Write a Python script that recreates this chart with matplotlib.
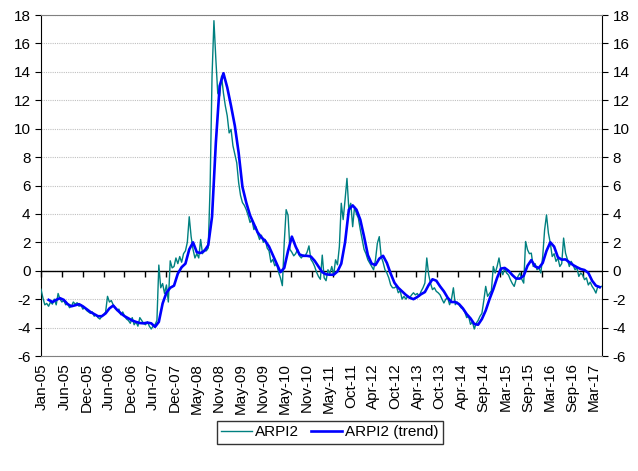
import matplotlib
matplotlib.use("Agg")
import matplotlib.pyplot as plt
import numpy as np

plt.rcParams['font.family'] = ['Liberation Sans', 'DejaVu Sans']
plt.rcParams['axes.unicode_minus'] = False

# =============================================================================
# DATA (x = months since Jan-05)
# =============================================================================

# ARPI2, two readings per month, Jan-05 .. Apr-17
arpi2 = [
    -1.3, -1.9, -2.4, -2.3, -2.5, -2.2, -2.35, -2.0, -2.4, -1.6, -2.0, -2.2,
    -2.1, -2.4, -2.3, -2.6, -2.5, -2.2, -2.35, -2.25, -2.5, -2.4, -2.7, -2.6,
    -2.8, -2.9, -3.0, -2.9, -3.2, -3.1, -3.3, -3.4, -3.2, -3.1, -2.9, -1.8,
    -2.2, -2.1, -2.4, -2.6, -2.8, -2.7, -3.1, -2.9, -3.2, -3.4, -3.5, -3.7,
    -3.3, -3.8, -3.6, -3.9, -3.3, -3.5, -3.7, -3.8, -3.6, -3.9, -4.1, -3.9,
    -3.8, -3.5, 0.4, -1.2, -0.9, -1.6, -1.0, -2.2, 0.7, 0.2, 0.3, 0.9,
    0.5, 1.0, 0.6, 1.2, 1.4, 2.0, 3.8, 2.4, 1.5, 0.9, 1.2, 0.9,
    2.2, 1.2, 1.5, 1.4, 1.6, 6.0, 13.7, 17.6, 14.9, 12.5, 12.3, 13.7,
    12.5, 11.6, 10.9, 9.7, 9.95, 8.8, 8.2, 7.6, 6.2, 5.3, 4.8, 4.6,
    4.3, 3.9, 3.4, 3.6, 2.9, 3.1, 2.6, 2.2, 2.5, 2.0, 2.2, 1.6,
    1.4, 0.6, 0.8, 0.35, 0.5, -0.1, -0.5, -1.05, 2.0, 4.3, 3.9, 1.5,
    1.3, 1.05, 1.2, 1.5, 1.05, 0.9, 1.1, 1.05, 1.3, 1.75, 0.8, 0.6,
    0.3, -0.1, -0.4, -0.6, 1.1, -0.5, -0.7, 0.07, -0.2, 0.3, -0.28, 0.77,
    0.42, 1.7, 4.75, 3.6, 5.0, 6.5, 4.3, 4.75, 3.1, 4.5, 4.0, 3.7,
    2.9, 2.2, 1.5, 1.2, 0.77, 0.54, 0.3, 0.07, 0.77, 1.94, 2.4, 1.0,
    0.6, 0.07, -0.16, -0.5, -1.0, -1.2, -1.2, -1.1, -1.55, -1.4, -2.0, -1.8,
    -2.0, -1.8, -1.9, -1.7, -1.55, -1.7, -1.6, -1.8, -1.45, -1.2, -0.87, 0.9,
    -0.28, -0.9, -1.33, -1.2, -1.45, -1.55, -1.7, -2.0, -2.27, -2.0, -1.92, -2.39,
    -2.0, -1.2, -2.39, -2.2, -2.4, -2.6, -2.7, -2.9, -3.3, -3.2, -3.77, -3.6,
    -4.1, -3.7, -3.5, -3.2, -3.0, -2.1, -1.1, -1.8, -1.6, -1.4, 0.3, -0.16,
    0.3, 0.9, 0.07, -0.28, 0.2, -0.16, -0.3, -0.63, -0.9, -1.1, -0.63, -0.4,
    -0.16, -0.6, -0.87, 2.06, 1.48, 1.2, 1.24, 0.3, 0.5, 0.07, 0.2, -0.16,
    1.0, 2.88, 3.93, 2.65, 1.94, 1.0, 1.2, 0.66, 0.9, 0.3, 0.5, 2.3,
    1.24, 0.8, 0.3, 0.66, 0.4, 0.07, 0.2, -0.4, -0.16, -0.3, -0.63, -0.5,
    -1.0, -0.8, -1.1, -1.3, -1.57, -1.1, -1.2, -1.1,
]
arpi2_x = np.arange(len(arpi2)) * 0.5

# ARPI2 (trend), monthly, Mar-05 .. Apr-17
trend = [
    -2.05, -2.2, -2.05, -1.93, -2.05, -2.35, -2.5, -2.43, -2.35, -2.5,
    -2.7, -2.9, -3.05, -3.2, -3.2, -3.0, -2.65, -2.45, -2.75, -3.0,
    -3.2, -3.35, -3.5, -3.6, -3.68, -3.7, -3.65, -3.7, -3.95, -3.6,
    -2.3, -1.55, -1.2, -1.05, -0.2, 0.25, 0.5, 1.5, 2.0, 1.3,
    1.25, 1.4, 1.8, 3.8, 9.0, 13.0, 13.9, 12.9, 11.6, 10.2,
    8.3, 5.9, 4.8, 3.9, 3.3, 2.7, 2.35, 2.1, 1.7, 1.1,
    0.5, -0.1, 0.2, 1.4, 2.4, 1.7, 1.15, 1.05, 1.05, 1.0,
    0.7, 0.3, -0.1, -0.25, -0.28, -0.28, -0.05, 0.5, 2.0, 4.3,
    4.6, 4.3, 3.6, 2.4, 1.1, 0.5, 0.4, 0.85, 1.05, 0.55,
    -0.2, -0.85, -1.2, -1.45, -1.7, -1.9, -2.0, -1.85, -1.65, -1.5,
    -1.0, -0.6, -0.7, -1.1, -1.45, -1.9, -2.2, -2.2, -2.35, -2.65,
    -3.05, -3.35, -3.75, -3.8, -3.4, -2.8, -2.0, -1.3, -0.5, 0.15,
    0.2, 0.0, -0.3, -0.55, -0.55, -0.35, 0.35, 0.75, 0.3, 0.2,
    0.55, 1.4, 2.0, 1.7, 0.95, 0.78, 0.8, 0.6, 0.4, 0.25,
    0.12, 0.05, -0.15, -0.7, -1.05, -1.15,
]
trend_x = np.arange(len(trend)) + 2

labels = ['Jan-05', 'Jun-05', 'Dec-05', 'Jun-06', 'Dec-06', 'Jun-07',
          'Dec-07', 'May-08', 'Nov-08', 'May-09', 'Nov-09', 'May-10',
          'Nov-10', 'May-11', 'Oct-11', 'Apr-12', 'Oct-12', 'Apr-13',
          'Oct-13', 'Apr-14', 'Sep-14', 'Mar-15', 'Sep-15', 'Mar-16',
          'Sep-16', 'Mar-17']

# =============================================================================
# PLOT
# =============================================================================

fig = plt.figure(figsize=(6.38, 4.71), dpi=100)
ax = fig.add_axes([41 / 638, 1 - 356 / 471, 561 / 638, 341 / 471])

ax.plot(arpi2_x, arpi2, color='#008080', lw=1.0, label='ARPI2', zorder=3)
ax.plot(trend_x, trend, color='#0000FF', lw=1.9, label='ARPI2 (trend)', zorder=4)

ax.set_xlim(0, 147.6)
ax.set_ylim(-6, 18)
ax.set_yticks(np.arange(-6, 19, 2))
ax.grid(axis='y', color='#c0c0c0', linestyle=(0, (1, 1)), linewidth=0.8)
ax.axhline(0, color='black', lw=1.0, zorder=2)

# category labels at the bottom, no tick marks
ax.set_xticks(0.3 + 5.81 * np.arange(len(labels)))
ax.set_xticklabels(labels, rotation=90, fontsize=11)
ax.tick_params(axis='x', length=0, pad=5)

# tick marks on the zero line
zx = ax.secondary_xaxis(0.25)
zx.set_xticks(5.487 * np.arange(27))
zx.set_xticklabels([])
zx.tick_params(axis='x', direction='out', length=4, width=1, color='black')
zx.spines['bottom'].set_visible(False)

ax.tick_params(axis='y', labelsize=11, direction='out', length=4,
               left=True, right=True, labelleft=True, labelright=True)
for side in ['top', 'bottom']:
    ax.spines[side].set_color('#808080')
for side in ['left', 'right']:
    ax.spines[side].set_color('black')

fig.legend(loc='center', bbox_to_anchor=(0.517, 0.082), ncol=2,
           fontsize=11, frameon=True, fancybox=False, edgecolor='black',
           handlelength=2.0, handletextpad=0.2, columnspacing=0.8,
           borderpad=0.3)

plt.savefig('out.png', dpi=100)
